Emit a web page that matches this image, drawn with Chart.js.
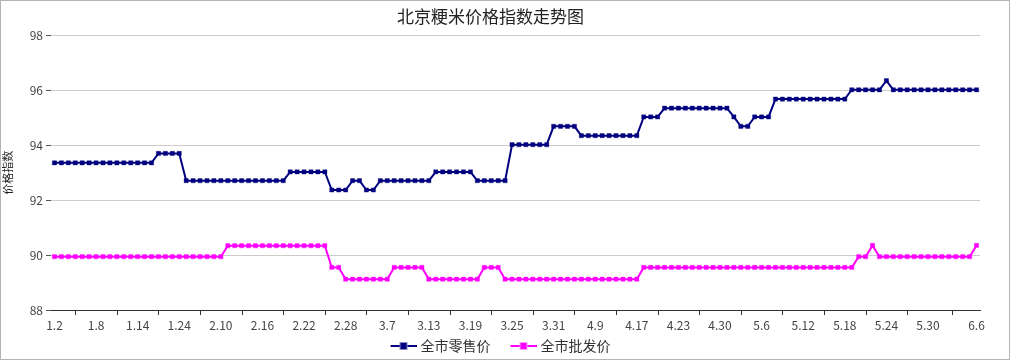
<!DOCTYPE html>
<html>
<head>
<meta charset="utf-8">
<script src="https://cdn.jsdelivr.net/npm/chart.js@4.4.0/dist/chart.umd.min.js"></script>
<style>
  html, body { margin: 0; padding: 0; background: #fff; }
  #wrap { width: 1010px; height: 360px; box-sizing: border-box; border: 1px solid #b4b4b4; }
  canvas { display: block; }
</style>
</head>
<body>
<div id="wrap"><canvas id="c" width="1008" height="358"></canvas></div>
<script>
// 日期（每日采样，节假日有缺）
const dates = [
  '1.2','1.3','1.4','1.5','1.6','1.7',
  '1.8','1.9','1.10','1.11','1.12','1.13',
  '1.14','1.15','1.16','1.17','1.18','1.21',
  '1.24','1.25','1.28','1.29','1.30','2.1',
  '2.10','2.11','2.12','2.13','2.14','2.15',
  '2.16','2.17','2.18','2.19','2.20','2.21',
  '2.22','2.23','2.24','2.25','2.26','2.27',
  '2.28','3.1','3.2','3.4','3.5','3.6',
  '3.7','3.8','3.9','3.10','3.11','3.12',
  '3.13','3.14','3.15','3.16','3.17','3.18',
  '3.19','3.20','3.21','3.22','3.23','3.24',
  '3.25','3.26','3.27','3.28','3.29','3.30',
  '3.31','4.1','4.2','4.3','4.4','4.8',
  '4.9','4.10','4.11','4.12','4.15','4.16',
  '4.17','4.18','4.19','4.20','4.21','4.22',
  '4.23','4.24','4.25','4.26','4.28','4.29',
  '4.30','5.1','5.2','5.3','5.4','5.5',
  '5.6','5.7','5.8','5.9','5.10','5.11',
  '5.12','5.13','5.14','5.15','5.16','5.17',
  '5.18','5.19','5.20','5.21','5.22','5.23',
  '5.24','5.25','5.26','5.27','5.28','5.29',
  '5.30','5.31','6.1','6.2','6.3','6.4','6.5','6.6'
];

// 全市零售价
const retail = [
  93.36, 93.36, 93.36, 93.36, 93.36, 93.36, 93.36, 93.36, 93.36, 93.36,
  93.36, 93.36, 93.36, 93.36, 93.36, 93.70, 93.70, 93.70, 93.70, 92.71,
  92.71, 92.71, 92.71, 92.71, 92.71, 92.71, 92.71, 92.71, 92.71, 92.71,
  92.71, 92.71, 92.71, 92.71, 93.03, 93.03, 93.03, 93.03, 93.03, 93.03,
  92.37, 92.37, 92.37, 92.71, 92.71, 92.37, 92.37, 92.71, 92.71, 92.71,
  92.71, 92.71, 92.71, 92.71, 92.71, 93.03, 93.03, 93.03, 93.03, 93.03,
  93.03, 92.71, 92.71, 92.71, 92.71, 92.71, 94.02, 94.02, 94.02, 94.02,
  94.02, 94.02, 94.69, 94.69, 94.69, 94.69, 94.35, 94.35, 94.35, 94.35,
  94.35, 94.35, 94.35, 94.35, 94.35, 95.03, 95.03, 95.03, 95.35, 95.35,
  95.35, 95.35, 95.35, 95.35, 95.35, 95.35, 95.35, 95.35, 95.03, 94.69,
  94.69, 95.03, 95.03, 95.03, 95.68, 95.68, 95.68, 95.68, 95.68, 95.68,
  95.68, 95.68, 95.68, 95.68, 95.68, 96.02, 96.02, 96.02, 96.02, 96.02,
  96.35, 96.02, 96.02, 96.02, 96.02, 96.02, 96.02, 96.02, 96.02, 96.02,
  96.02, 96.02, 96.02, 96.02
];

// 全市批发价
const wholesale = [
  89.94, 89.94, 89.94, 89.94, 89.94, 89.94, 89.94, 89.94, 89.94, 89.94,
  89.94, 89.94, 89.94, 89.94, 89.94, 89.94, 89.94, 89.94, 89.94, 89.94,
  89.94, 89.94, 89.94, 89.94, 89.94, 90.34, 90.34, 90.34, 90.34, 90.34,
  90.34, 90.34, 90.34, 90.34, 90.34, 90.34, 90.34, 90.34, 90.34, 90.34,
  89.55, 89.55, 89.12, 89.12, 89.12, 89.12, 89.12, 89.12, 89.12, 89.55,
  89.55, 89.55, 89.55, 89.55, 89.12, 89.12, 89.12, 89.12, 89.12, 89.12,
  89.12, 89.12, 89.55, 89.55, 89.55, 89.12, 89.12, 89.12, 89.12, 89.12,
  89.12, 89.12, 89.12, 89.12, 89.12, 89.12, 89.12, 89.12, 89.12, 89.12,
  89.12, 89.12, 89.12, 89.12, 89.12, 89.55, 89.55, 89.55, 89.55, 89.55,
  89.55, 89.55, 89.55, 89.55, 89.55, 89.55, 89.55, 89.55, 89.55, 89.55,
  89.55, 89.55, 89.55, 89.55, 89.55, 89.55, 89.55, 89.55, 89.55, 89.55,
  89.55, 89.55, 89.55, 89.55, 89.55, 89.55, 89.94, 89.94, 90.35, 89.94,
  89.94, 89.94, 89.94, 89.94, 89.94, 89.94, 89.94, 89.94, 89.94, 89.94,
  89.94, 89.94, 89.94, 90.35
];

const seriesNames = ['全市零售价', '全市批发价'];
const yMin = 88, yMax = 98, yStep = 2;
const LABEL_EVERY = 6;

const FONT = '"Noto Sans CJK SC", "Noto Sans", sans-serif';
const NAVY = '#000080';
const PINK = '#ff00ff';

const lastIdx = dates.length - 1;
// 每 6 个显示一个，最后一个总显示（离它太近的就跳过）
function showLabel(i) {
  if (i === lastIdx) return true;
  return i % LABEL_EVERY === 0 && lastIdx - i >= LABEL_EVERY;
}

// 图例符号：左边留空 + 线 + 方块（图比框宽，靠右对齐到文字前）
function legendIcon(color, halo) {
  const cv = document.createElement('canvas');
  cv.width = 49; cv.height = 10;
  const g = cv.getContext('2d');
  const x0 = 23, len = 26;
  g.strokeStyle = color;
  g.lineWidth = 2;
  g.beginPath(); g.moveTo(x0, 5); g.lineTo(x0 + len, 5); g.stroke();
  const mid = x0 + len / 2;
  g.fillStyle = halo; g.fillRect(mid - 4, 1, 8, 8);
  g.fillStyle = color; g.fillRect(mid - 3, 2, 6, 6);
  return cv;
}
const icons = [legendIcon(NAVY, '#8a8ac4'), legendIcon(PINK, '#ff9cff')];

// x 轴刻度线画在两个标签之间
const xTickMarks = {
  id: 'xTickMarks',
  afterDraw(chart) {
    const sc = chart.scales.x;
    const ctx = chart.ctx;
    const shown = [];
    dates.forEach((d, i) => { if (showLabel(i)) shown.push(i); });
    ctx.save();
    ctx.strokeStyle = '#333';
    ctx.lineWidth = 1;
    for (let k = 0; k < shown.length - 1; k++) {
      const x = Math.round((sc.getPixelForTick(shown[k]) + sc.getPixelForTick(shown[k + 1])) / 2) + 0.5;
      ctx.beginPath();
      ctx.moveTo(x, sc.top);
      ctx.lineTo(x, sc.top + 5);
      ctx.stroke();
    }
    ctx.restore();
  }
};

new Chart(document.getElementById('c'), {
  type: 'line',
  data: {
    labels: dates,
    datasets: [
      {
        label: seriesNames[0],
        data: retail,
        borderColor: NAVY,
        backgroundColor: NAVY,
        borderWidth: 2,
        pointStyle: 'rect',
        pointRadius: 3,
        pointBackgroundColor: NAVY,
        pointBorderColor: 'rgba(0,0,128,0.35)',
        pointBorderWidth: 1,
        tension: 0
      },
      {
        label: seriesNames[1],
        data: wholesale,
        borderColor: PINK,
        backgroundColor: PINK,
        borderWidth: 2,
        pointStyle: 'rect',
        pointRadius: 3,
        pointBackgroundColor: PINK,
        pointBorderColor: 'rgba(255,0,255,0.35)',
        pointBorderWidth: 1,
        tension: 0
      }
    ]
  },
  options: {
    responsive: false,
    animation: false,
    devicePixelRatio: 1,
    layout: { padding: { left: 0, right: 29, top: 0, bottom: -4 } },
    plugins: {
      title: {
        display: true,
        text: '北京粳米价格指数走势图',
        color: '#222',
        font: { family: FONT, size: 17, weight: 'normal' },
        padding: { top: 5, bottom: 9 }
      },
      legend: {
        position: 'bottom',
        labels: {
          usePointStyle: true,
          pointStyleWidth: 43,
          padding: 0,
          color: '#333',
          font: { family: FONT, size: 14 },
          generateLabels(chart) {
            const items = Chart.defaults.plugins.legend.labels.generateLabels(chart);
            items.forEach((it, i) => { it.pointStyle = icons[i]; });
            return items;
          }
        }
      },
      tooltip: { enabled: false }
    },
    scales: {
      x: {
        offset: true,
        grid: { display: false, drawTicks: false, tickLength: 0 },
        border: { display: true, color: '#333', width: 1 },
        ticks: {
          autoSkip: false,
          maxRotation: 0,
          padding: 8,
          color: '#444',
          font: { family: FONT, size: 12 },
          callback: (v, i) => (showLabel(i) ? dates[i] : '')
        },
        afterFit: s => { s.height = 29; }
      },
      y: {
        min: yMin,
        max: yMax,
        border: { display: false },
        grid: { color: '#cccccc', tickColor: '#555', tickLength: 5 },
        ticks: {
          stepSize: yStep,
          padding: 3,
          color: '#444',
          font: { family: FONT, size: 12 }
        },
        title: {
          display: true,
          text: '价格指数',
          color: '#222',
          font: { family: FONT, size: 11 },
          padding: 0
        },
        afterFit: s => { s.width = 50; }
      }
    }
  },
  plugins: [xTickMarks]
});
</script>
</body>
</html>
